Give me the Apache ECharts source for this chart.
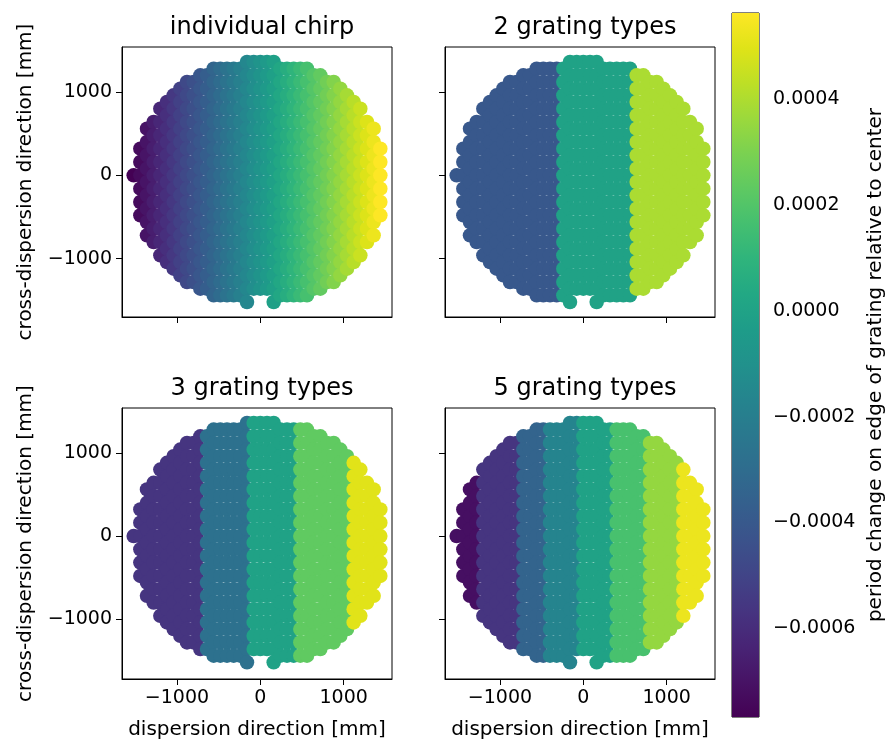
<!DOCTYPE html>
<html>
<head>
<meta charset="utf-8">
<script src="https://cdn.jsdelivr.net/npm/echarts@6/dist/echarts.min.js"></script>
<style>
html,body{margin:0;padding:0;background:#fff;}
#chart{width:891px;height:741px;}
</style>
</head>
<body>
<div id="chart"></div>
<script>
// ---- data ----
// grating column positions (dispersion direction, mm)
const COL_X = [-1520,-1440,-1360,-1280,-1200,-1120,-1040,-960,-880,-800,-720,-640,-560,-480,-400,-320,-240,-160,-80,0,
  80,160,240,320,400,480,560,640,720,800,880,960,1040,1120,1200,1280,1360,1440];
// top / bottom grating centre of each column (cross-dispersion, mm)
const COL_TOP = [0,320,560,640,800,880,960,1040,1120,1120,1200,1200,1280,1280,1280,1280,1280,1360,1360,1360,
  1360,1360,1280,1280,1280,1280,1280,1200,1200,1120,1120,1040,960,880,800,640,560,320];
const COL_BOTTOM = [0,-480,-720,-800,-960,-1040,-1120,-1200,-1280,-1280,-1360,-1360,-1440,-1440,-1440,-1440,-1440,-1520,-1360,-1360,
  -1360,-1520,-1440,-1440,-1440,-1440,-1440,-1360,-1360,-1280,-1280,-1200,-1120,-1040,-960,-800,-720,-480];
const ROW_PITCH = 160;

// period change per column for each panel
const VAL_INDIVIDUAL = [-0.000768,-0.000732,-0.000696,-0.000660,-0.000624,-0.000588,-0.000552,-0.000516,-0.000480,-0.000444,
  -0.000408,-0.000372,-0.000336,-0.000300,-0.000264,-0.000228,-0.000192,-0.000156,-0.000120,-0.000084,
  -0.000048,-0.000012,0.000024,0.000060,0.000096,0.000132,0.000168,0.000204,0.000240,0.000276,
  0.000312,0.000348,0.000384,0.000420,0.000456,0.000492,0.000528,0.000563];
const VAL_2TYPES = [-0.000405,-0.000405,-0.000405,-0.000405,-0.000405,-0.000405,-0.000405,-0.000405,-0.000405,-0.000405,
  -0.000405,-0.000405,-0.000405,-0.000405,-0.000405,-0.000405,0.0,0.0,0.0,0.0,
  0.0,0.0,0.0,0.0,0.0,0.0,0.0,0.000395,0.000395,0.000395,
  0.000395,0.000395,0.000395,0.000395,0.000395,0.000395,0.000395,0.000395];
const VAL_3TYPES = [-0.000565,-0.000565,-0.000565,-0.000565,-0.000565,-0.000565,-0.000565,-0.000565,-0.000565,-0.000565,
  -0.000565,-0.000275,-0.000275,-0.000275,-0.000275,-0.000275,-0.000275,-0.000275,0.0,0.0,
  0.0,0.0,0.0,0.0,0.0,0.000235,0.000235,0.000235,0.000235,0.000235,
  0.000235,0.000235,0.000235,0.000500,0.000500,0.000500,0.000500,0.000500];
const VAL_5TYPES = [-0.000715,-0.000715,-0.000715,-0.000715,-0.000565,-0.000565,-0.000565,-0.000565,-0.000565,-0.000565,
  -0.000345,-0.000345,-0.000345,-0.000345,-0.000170,-0.000170,-0.000170,-0.000170,-0.000170,0.0,
  0.0,0.0,0.0,0.0,0.000175,0.000175,0.000175,0.000175,0.000175,0.000350,
  0.000350,0.000350,0.000350,0.000350,0.000525,0.000525,0.000525,0.000525];

const PANEL_TITLES = ['individual chirp','2 grating types','3 grating types','5 grating types'];
const AXIS_TICKS = [-1000, 0, 1000];
const CBAR_MIN = -0.000768, CBAR_MAX = 0.000563;
const CBAR_TICKS = [-0.0006,-0.0004,-0.0002,0,0.0002,0.0004];
const VIRIDIS = ['#440154','#471365','#482475','#463480','#414487','#3b528b','#355f8d','#2f6c8e','#2a788e','#25848e',
  '#21918c','#1e9c89','#22a884','#2fb47c','#44bf70','#5ec962','#7ad151','#9bd93c','#bddf26','#dfe318','#fde725'];

// ---- build ----
function buildPoints(vals){
  const pts = [];
  for (let i = 0; i < COL_X.length; i++){
    for (let y = COL_TOP[i]; y >= COL_BOTTOM[i]; y -= ROW_PITCH){
      pts.push([COL_X[i], y, vals[i]]);
    }
  }
  return pts;
}
const PANEL_VALUES = [VAL_INDIVIDUAL, VAL_2TYPES, VAL_3TYPES, VAL_5TYPES];

const FONT = 'DejaVu Sans';
const minus = v => (v < 0 ? '\u2212' + Math.abs(v) : String(v));
const grids = [
  {left:122, top:47, width:270, height:270},
  {left:445, top:47, width:270, height:270},
  {left:122, top:408, width:270, height:272},
  {left:445, top:408, width:270, height:272},
  {left:732, top:13, width:27, height:704}
].map(g => Object.assign({show:true, borderColor:'#000', borderWidth:1, backgroundColor:'transparent'}, g));

const xAxes = [], yAxes = [], titles = [], series = [];
for (let p = 0; p < 4; p++){
  const bottom = p >= 2, left = (p % 2) === 0;
  xAxes.push({
    type:'value', gridIndex:p, min:-1660, max:1580,
    axisLine:{show:true, onZero:false, lineStyle:{color:'#000', width:1}}, splitLine:{show:false},
    axisTick:{show:true, length:6, customValues:AXIS_TICKS, lineStyle:{color:'#000', width:1}},
    axisLabel:{show:bottom, customValues:AXIS_TICKS, formatter:minus, fontSize:19, fontFamily:FONT, color:'#000', margin:10},
    name: bottom ? 'dispersion direction [mm]' : '', nameLocation:'middle', nameGap:41,
    nameTextStyle:{fontSize:20, fontFamily:FONT, color:'#000'}
  });
  yAxes.push({
    type:'value', gridIndex:p, min: bottom ? -1720 : -1700, max:1540,
    axisLine:{show:true, onZero:false, lineStyle:{color:'#000', width:1}}, splitLine:{show:false},
    axisTick:{show:true, length:6, customValues:AXIS_TICKS, lineStyle:{color:'#000', width:1}},
    axisLabel:{show:left, customValues:AXIS_TICKS, formatter:minus, fontSize:19, fontFamily:FONT, color:'#000', margin:10},
    name: left ? 'cross-dispersion direction [mm]' : '', nameLocation:'middle', nameGap:86, nameRotate:90,
    nameTextStyle:{fontSize:20, fontFamily:FONT, color:'#000'}
  });
  titles.push({
    text: PANEL_TITLES[p], left: grids[p].left + grids[p].width/2, textAlign:'center',
    top: grids[p].top - 36,
    textStyle:{fontSize:24, fontWeight:'normal', fontFamily:FONT, color:'#000'}
  });
  series.push({
    type:'scatter', xAxisIndex:p, yAxisIndex:p, symbol:'circle', symbolSize:14.5,
    data: buildPoints(PANEL_VALUES[p]), silent:true, itemStyle:{opacity:1}
  });
}
// colour bar axes
xAxes.push({type:'value', gridIndex:4, min:0, max:1, show:false});
yAxes.push({
  type:'value', gridIndex:4, min:CBAR_MIN, max:CBAR_MAX, position:'right',
  axisLine:{show:false}, splitLine:{show:false},
  axisTick:{show:true, length:6, customValues:CBAR_TICKS, lineStyle:{color:'#000', width:1}},
  axisLabel:{customValues:CBAR_TICKS, formatter:v => (v < 0 ? '\u2212' : '') + Math.abs(v).toFixed(4),
    fontSize:19, fontFamily:FONT, color:'#000', margin:14},
  name:'period change on edge of grating relative to center', nameLocation:'middle', nameGap:107, nameRotate:90,
  nameTextStyle:{fontSize:20, fontFamily:FONT, color:'#000'}
});
series.push({
  type:'custom', xAxisIndex:4, yAxisIndex:4, silent:true,
  data:[[0, CBAR_MIN, 1, CBAR_MAX]],
  renderItem:(params, api) => {
    const a = api.coord([api.value(0), api.value(1)]);
    const b = api.coord([api.value(2), api.value(3)]);
    const stops = VIRIDIS.map((c, k) => ({offset:k/(VIRIDIS.length-1), color:c}));
    return {type:'rect', shape:{x:a[0], y:b[1], width:b[0]-a[0], height:a[1]-b[1]},
      style:{fill:new echarts.graphic.LinearGradient(0,1,0,0,stops)}};
  }
});

const chart = echarts.init(document.getElementById('chart'), null, {renderer:'canvas'});
chart.setOption({
  animation:false,
  backgroundColor:'#fff',
  title: titles,
  grid: grids,
  xAxis: xAxes,
  yAxis: yAxes,
  visualMap: {type:'continuous', show:false, min:CBAR_MIN, max:CBAR_MAX, dimension:2, seriesIndex:[0,1,2,3],
    inRange:{color:VIRIDIS}},
  series: series
});
</script>
</body>
</html>
